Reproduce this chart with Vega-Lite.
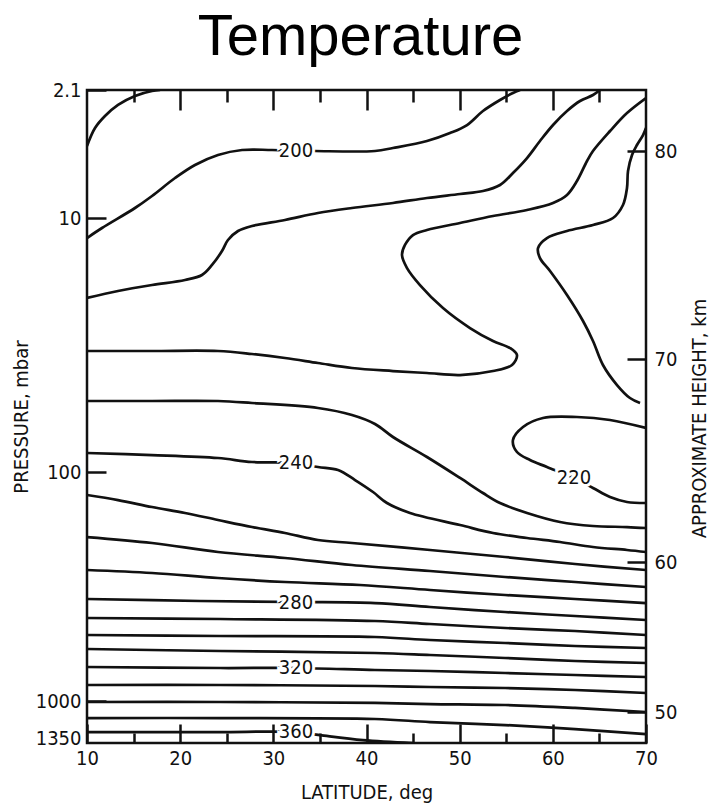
{
  "$schema": "https://vega.github.io/schema/vega-lite/v6.json",
  "width": 559,
  "height": 653,
  "autosize": "none",
  "padding": {"left": 87, "top": 90, "right": 65, "bottom": 65},
  "title": {"text": "Temperature", "font": "Liberation Sans", "fontSize": 58, "fontWeight": "normal", "color": "#000", "anchor": "middle", "frame": "group", "baseline": "alphabetic", "offset": -33, "dx": -6},
  "datasets": {
    "contours": [
      {"c":1,"T":190,"i":0,"lat":10,"p":4.157},{"c":1,"T":190,"i":1,"lat":10.86,"p":3.338},{"c":1,"T":190,"i":2,"lat":11.93,"p":2.884},{"c":1,"T":190,"i":3,"lat":13.33,"p":2.52},{"c":1,"T":190,"i":4,"lat":15.15,"p":2.259},{"c":1,"T":190,"i":5,"lat":16.98,"p":2.126},{"c":1,"T":190,"i":6,"lat":17.84,"p":2.1},
      {"c":2,"T":200,"i":0,"lat":10,"p":11.99},{"c":2,"T":200,"i":1,"lat":11.61,"p":10.95},{"c":2,"T":200,"i":2,"lat":15.15,"p":8.852},{"c":2,"T":200,"i":3,"lat":16.98,"p":7.647},{"c":2,"T":200,"i":4,"lat":19.45,"p":6.142},{"c":2,"T":200,"i":5,"lat":21.59,"p":5.24},{"c":2,"T":200,"i":6,"lat":24.06,"p":4.639},{"c":2,"T":200,"i":7,"lat":26.64,"p":4.364},{"c":2,"T":200,"i":8,"lat":29.86,"p":4.364},{"c":2,"T":200,"i":9,"lat":34.47,"p":4.418},{"c":2,"T":200,"i":10,"lat":40.91,"p":4.418},{"c":2,"T":200,"i":11,"lat":42.84,"p":4.259},{"c":2,"T":200,"i":12,"lat":46.49,"p":3.911},{"c":2,"T":200,"i":13,"lat":48.96,"p":3.548},{"c":2,"T":200,"i":14,"lat":50.79,"p":3.218},{"c":2,"T":200,"i":15,"lat":52.5,"p":2.713},{"c":2,"T":200,"i":16,"lat":54.33,"p":2.372},{"c":2,"T":200,"i":17,"lat":55.72,"p":2.178},{"c":2,"T":200,"i":18,"lat":56.48,"p":2.1},
      {"c":3,"T":210,"i":0,"lat":10,"p":20.65},{"c":3,"T":210,"i":1,"lat":13.33,"p":19.39},{"c":3,"T":210,"i":2,"lat":16.98,"p":18.36},{"c":3,"T":210,"i":3,"lat":20.52,"p":17.54},{"c":3,"T":210,"i":4,"lat":22.34,"p":16.77},{"c":3,"T":210,"i":5,"lat":23.42,"p":15.31},{"c":3,"T":210,"i":6,"lat":24.49,"p":13.49},{"c":3,"T":210,"i":7,"lat":25.13,"p":12.21},{"c":3,"T":210,"i":8,"lat":26.21,"p":11.25},{"c":3,"T":210,"i":9,"lat":27.71,"p":10.75},{"c":3,"T":210,"i":10,"lat":31.25,"p":10.18},{"c":3,"T":210,"i":11,"lat":34.79,"p":9.409},{"c":3,"T":210,"i":12,"lat":38.44,"p":8.852},{"c":3,"T":210,"i":13,"lat":42.84,"p":8.328},{"c":3,"T":210,"i":14,"lat":46.49,"p":7.837},{"c":3,"T":210,"i":15,"lat":50.04,"p":7.463},{"c":3,"T":210,"i":16,"lat":52.5,"p":7.194},{"c":3,"T":210,"i":17,"lat":54.33,"p":6.688},{"c":3,"T":210,"i":18,"lat":55.72,"p":5.777},{"c":3,"T":210,"i":19,"lat":57.23,"p":4.812},{"c":3,"T":210,"i":20,"lat":58.62,"p":3.911},{"c":3,"T":210,"i":21,"lat":60.02,"p":3.218},{"c":3,"T":210,"i":22,"lat":61.52,"p":2.713},{"c":3,"T":210,"i":23,"lat":62.92,"p":2.402},{"c":3,"T":210,"i":24,"lat":64.31,"p":2.233},{"c":3,"T":210,"i":25,"lat":65.06,"p":2.1},
      {"c":4,"T":220,"i":0,"lat":10,"p":33.39},{"c":4,"T":220,"i":1,"lat":16.98,"p":33.39},{"c":4,"T":220,"i":2,"lat":24.06,"p":33.39},{"c":4,"T":220,"i":3,"lat":27.71,"p":34.31},{"c":4,"T":220,"i":4,"lat":31.25,"p":35.58},{"c":4,"T":220,"i":5,"lat":34.79,"p":37.23},{"c":4,"T":220,"i":6,"lat":38.44,"p":38.96},{"c":4,"T":220,"i":7,"lat":42.84,"p":40.04},{"c":4,"T":220,"i":8,"lat":46.49,"p":40.77},{"c":4,"T":220,"i":9,"lat":50.04,"p":41.52},{"c":4,"T":220,"i":10,"lat":53.58,"p":40.04},{"c":4,"T":220,"i":11,"lat":55.62,"p":37.91},{"c":4,"T":220,"i":12,"lat":56.15,"p":34.63},{"c":4,"T":220,"i":13,"lat":55.4,"p":32.5},{"c":4,"T":220,"i":14,"lat":53.58,"p":30.5},{"c":4,"T":220,"i":15,"lat":51.11,"p":27.11},{"c":4,"T":220,"i":16,"lat":48.21,"p":22.62},{"c":4,"T":220,"i":17,"lat":45.74,"p":18.36},{"c":4,"T":220,"i":18,"lat":44.35,"p":15.74},{"c":4,"T":220,"i":19,"lat":43.81,"p":13.99},{"c":4,"T":220,"i":20,"lat":44.13,"p":12.77},{"c":4,"T":220,"i":21,"lat":44.99,"p":11.67},{"c":4,"T":220,"i":22,"lat":46.49,"p":11.15},{"c":4,"T":220,"i":23,"lat":50.04,"p":10.46},{"c":4,"T":220,"i":24,"lat":53.58,"p":9.759},{"c":4,"T":220,"i":25,"lat":57.23,"p":9.072},{"c":4,"T":220,"i":26,"lat":60.02,"p":8.328},{"c":4,"T":220,"i":27,"lat":61.52,"p":7.554},{"c":4,"T":220,"i":28,"lat":62.59,"p":6.37},{"c":4,"T":220,"i":29,"lat":63.67,"p":4.991},{"c":4,"T":220,"i":30,"lat":64.31,"p":4.418},{"c":4,"T":220,"i":31,"lat":66.14,"p":3.462},{"c":4,"T":220,"i":32,"lat":67.96,"p":2.78},{"c":4,"T":220,"i":33,"lat":70,"p":2.315},
      {"c":5,"T":210,"i":0,"lat":70,"p":3.338},{"c":5,"T":210,"i":1,"lat":69.68,"p":3.636},{"c":5,"T":210,"i":2,"lat":69.03,"p":4.106},{"c":5,"T":210,"i":3,"lat":68.5,"p":4.639},{"c":5,"T":210,"i":4,"lat":68.07,"p":5.638},{"c":5,"T":210,"i":5,"lat":67.96,"p":6.936},{"c":5,"T":210,"i":6,"lat":67.53,"p":8.533},{"c":5,"T":210,"i":7,"lat":66.46,"p":10},{"c":5,"T":210,"i":8,"lat":64.31,"p":10.66},{"c":5,"T":210,"i":9,"lat":61.52,"p":11.25},{"c":5,"T":210,"i":10,"lat":59.37,"p":11.99},{"c":5,"T":210,"i":11,"lat":58.41,"p":13.13},{"c":5,"T":210,"i":12,"lat":58.62,"p":14.38},{"c":5,"T":210,"i":13,"lat":59.7,"p":16.17},{"c":5,"T":210,"i":14,"lat":61.52,"p":20.1},{"c":5,"T":210,"i":15,"lat":63.24,"p":25.44},{"c":5,"T":210,"i":16,"lat":64.31,"p":30.5},{"c":5,"T":210,"i":17,"lat":65.38,"p":37.91},{"c":5,"T":210,"i":18,"lat":66.89,"p":45.45},{"c":5,"T":210,"i":19,"lat":68.28,"p":51.13},{"c":5,"T":210,"i":20,"lat":69.36,"p":53.5},
      {"c":6,"T":230,"i":0,"lat":10,"p":52.54},{"c":6,"T":230,"i":1,"lat":16.98,"p":52.54},{"c":6,"T":230,"i":2,"lat":24.06,"p":52.54},{"c":6,"T":230,"i":3,"lat":27.71,"p":53.5},{"c":6,"T":230,"i":4,"lat":34.79,"p":55.98},{"c":6,"T":230,"i":5,"lat":38.44,"p":59.65},{"c":6,"T":230,"i":6,"lat":40.91,"p":64.71},{"c":6,"T":230,"i":7,"lat":42.84,"p":72.81},{"c":6,"T":230,"i":8,"lat":46.49,"p":87.3},{"c":6,"T":230,"i":9,"lat":50.04,"p":106.2},{"c":6,"T":230,"i":10,"lat":52.5,"p":123.5},{"c":6,"T":230,"i":11,"lat":54.33,"p":136.6},{"c":6,"T":230,"i":12,"lat":57.23,"p":151},{"c":6,"T":230,"i":13,"lat":60.77,"p":165.3},{"c":6,"T":230,"i":14,"lat":64.31,"p":172.1},{"c":6,"T":230,"i":15,"lat":67.96,"p":173.9},{"c":6,"T":230,"i":16,"lat":70,"p":175.6},
      {"c":7,"T":220,"i":0,"lat":70,"p":67.11},{"c":7,"T":220,"i":1,"lat":66.14,"p":62.42},{"c":7,"T":220,"i":2,"lat":62.59,"p":60.75},{"c":7,"T":220,"i":3,"lat":58.94,"p":61.3},{"c":7,"T":220,"i":4,"lat":56.8,"p":66.5},{"c":7,"T":220,"i":5,"lat":55.72,"p":74.82},{"c":7,"T":220,"i":6,"lat":56.15,"p":83.43},{"c":7,"T":220,"i":7,"lat":57.55,"p":89.7},{"c":7,"T":220,"i":8,"lat":59.37,"p":95.57},{"c":7,"T":220,"i":9,"lat":62.27,"p":106.2},{"c":7,"T":220,"i":10,"lat":64.31,"p":117.4},{"c":7,"T":220,"i":11,"lat":66.14,"p":128.6},{"c":7,"T":220,"i":12,"lat":67.96,"p":135.2},{"c":7,"T":220,"i":13,"lat":70,"p":136.6},
      {"c":8,"T":240,"i":0,"lat":10,"p":84.19},{"c":8,"T":240,"i":1,"lat":16.98,"p":85.74},{"c":8,"T":240,"i":2,"lat":24.06,"p":88.1},{"c":8,"T":240,"i":3,"lat":27.71,"p":91.34},{"c":8,"T":240,"i":4,"lat":32.43,"p":92.18},{"c":8,"T":240,"i":5,"lat":34.79,"p":95.57},{"c":8,"T":240,"i":6,"lat":36.94,"p":98.2},{"c":8,"T":240,"i":7,"lat":38.77,"p":108.4},{"c":8,"T":240,"i":8,"lat":40.7,"p":122.3},{"c":8,"T":240,"i":9,"lat":42.2,"p":136.6},{"c":8,"T":240,"i":10,"lat":44.67,"p":151},{"c":8,"T":240,"i":11,"lat":50.04,"p":170.4},{"c":8,"T":240,"i":12,"lat":53.58,"p":184.7},{"c":8,"T":240,"i":13,"lat":57.23,"p":194.2},{"c":8,"T":240,"i":14,"lat":60.77,"p":202.2},{"c":8,"T":240,"i":15,"lat":64.31,"p":212.6},{"c":8,"T":240,"i":16,"lat":67.96,"p":219.1},{"c":8,"T":240,"i":17,"lat":70,"p":223.6},
      {"c":9,"T":250,"i":0,"lat":10,"p":126},{"c":9,"T":250,"i":1,"lat":13.33,"p":132.6},{"c":9,"T":250,"i":2,"lat":16.98,"p":142.2},{"c":9,"T":250,"i":3,"lat":20.52,"p":151},{"c":9,"T":250,"i":4,"lat":24.06,"p":162},{"c":9,"T":250,"i":5,"lat":27.71,"p":173.9},{"c":9,"T":250,"i":6,"lat":31.25,"p":184.7},{"c":9,"T":250,"i":7,"lat":34.79,"p":198.2},{"c":9,"T":250,"i":8,"lat":38.44,"p":204.2},{"c":9,"T":250,"i":9,"lat":46.82,"p":219.1},{"c":9,"T":250,"i":10,"lat":54.87,"p":235},{"c":9,"T":250,"i":11,"lat":62.38,"p":252.2},{"c":9,"T":250,"i":12,"lat":70,"p":267.9},
      {"c":10,"T":260,"i":0,"lat":10,"p":192.3},{"c":10,"T":260,"i":1,"lat":16.98,"p":204.2},{"c":10,"T":260,"i":2,"lat":24.06,"p":223.6},{"c":10,"T":260,"i":3,"lat":31.25,"p":237.4},{"c":10,"T":260,"i":4,"lat":38.44,"p":254.7},{"c":10,"T":260,"i":5,"lat":46.82,"p":270.6},{"c":10,"T":260,"i":6,"lat":54.87,"p":287.4},{"c":10,"T":260,"i":7,"lat":62.38,"p":302.2},{"c":10,"T":260,"i":8,"lat":70,"p":317.8},
      {"c":11,"T":270,"i":0,"lat":10,"p":267.9},{"c":11,"T":270,"i":1,"lat":16.98,"p":276.1},{"c":11,"T":270,"i":2,"lat":24.06,"p":290.3},{"c":11,"T":270,"i":3,"lat":31.25,"p":302.2},{"c":11,"T":270,"i":4,"lat":39.3,"p":311.5},{"c":11,"T":270,"i":5,"lat":46.82,"p":327.5},{"c":11,"T":270,"i":6,"lat":54.87,"p":344.4},{"c":11,"T":270,"i":7,"lat":62.38,"p":358.5},{"c":11,"T":270,"i":8,"lat":70,"p":373.4},
      {"c":12,"T":280,"i":0,"lat":10,"p":358.5},{"c":12,"T":280,"i":1,"lat":22.13,"p":365.9},{"c":12,"T":280,"i":2,"lat":32.43,"p":369.6},{"c":12,"T":280,"i":3,"lat":40.91,"p":373.4},{"c":12,"T":280,"i":4,"lat":46.82,"p":388.7},{"c":12,"T":280,"i":5,"lat":54.87,"p":408.7},{"c":12,"T":280,"i":6,"lat":62.38,"p":425.5},{"c":12,"T":280,"i":7,"lat":70,"p":442.9},
      {"c":13,"T":290,"i":0,"lat":10,"p":434.1},{"c":13,"T":290,"i":1,"lat":24.28,"p":438.5},{"c":13,"T":290,"i":2,"lat":40.91,"p":447.4},{"c":13,"T":290,"i":3,"lat":46.82,"p":461.1},{"c":13,"T":290,"i":4,"lat":54.87,"p":480.1},{"c":13,"T":290,"i":5,"lat":62.38,"p":494.7},{"c":13,"T":290,"i":6,"lat":70,"p":515},
      {"c":14,"T":300,"i":0,"lat":10,"p":515},{"c":14,"T":300,"i":1,"lat":24.28,"p":520.2},{"c":14,"T":300,"i":2,"lat":40.91,"p":525.4},{"c":14,"T":300,"i":3,"lat":46.82,"p":541.5},{"c":14,"T":300,"i":4,"lat":54.87,"p":558},{"c":14,"T":300,"i":5,"lat":62.38,"p":575.3},{"c":14,"T":300,"i":6,"lat":70,"p":586.8},
      {"c":15,"T":310,"i":0,"lat":10,"p":592.7},{"c":15,"T":310,"i":1,"lat":24.28,"p":604.9},{"c":15,"T":310,"i":2,"lat":40.91,"p":617.1},{"c":15,"T":310,"i":3,"lat":46.82,"p":629.6},{"c":15,"T":310,"i":4,"lat":54.87,"p":649},{"c":15,"T":310,"i":5,"lat":62.38,"p":668.9},{"c":15,"T":310,"i":6,"lat":70,"p":682.5},
      {"c":16,"T":320,"i":0,"lat":10,"p":710.5},{"c":16,"T":320,"i":1,"lat":24.28,"p":717.7},{"c":16,"T":320,"i":2,"lat":32.43,"p":717.7},{"c":16,"T":320,"i":3,"lat":40.91,"p":732.3},{"c":16,"T":320,"i":4,"lat":46.82,"p":739.6},{"c":16,"T":320,"i":5,"lat":54.87,"p":754.7},{"c":16,"T":320,"i":6,"lat":62.38,"p":770.1},{"c":16,"T":320,"i":7,"lat":70,"p":785.7},
      {"c":17,"T":330,"i":0,"lat":10,"p":851.3},{"c":17,"T":330,"i":1,"lat":24.28,"p":851.3},{"c":17,"T":330,"i":2,"lat":40.91,"p":860},{"c":17,"T":330,"i":3,"lat":46.82,"p":868.7},{"c":17,"T":330,"i":4,"lat":54.87,"p":877.5},{"c":17,"T":330,"i":5,"lat":62.38,"p":895.4},{"c":17,"T":330,"i":6,"lat":70,"p":922.9},
      {"c":18,"T":340,"i":0,"lat":10,"p":1008},{"c":18,"T":340,"i":1,"lat":24.28,"p":1008},{"c":18,"T":340,"i":2,"lat":40.91,"p":1016},{"c":18,"T":340,"i":3,"lat":46.82,"p":1025},{"c":18,"T":340,"i":4,"lat":54.87,"p":1033},{"c":18,"T":340,"i":5,"lat":62.38,"p":1058},{"c":18,"T":340,"i":6,"lat":70,"p":1093},
      {"c":19,"T":350,"i":0,"lat":10,"p":1148},{"c":19,"T":350,"i":1,"lat":24.28,"p":1148},{"c":19,"T":350,"i":2,"lat":40.91,"p":1157},{"c":19,"T":350,"i":3,"lat":46.82,"p":1186},{"c":19,"T":350,"i":4,"lat":54.87,"p":1215},{"c":19,"T":350,"i":5,"lat":62.38,"p":1255},{"c":19,"T":350,"i":6,"lat":70,"p":1307},
      {"c":20,"T":360,"i":0,"lat":10,"p":1286},{"c":20,"T":360,"i":1,"lat":16.76,"p":1286},{"c":20,"T":360,"i":2,"lat":24.28,"p":1286},{"c":20,"T":360,"i":3,"lat":32.43,"p":1286},{"c":20,"T":360,"i":4,"lat":35.01,"p":1318},{"c":20,"T":360,"i":5,"lat":39.62,"p":1372},{"c":20,"T":360,"i":6,"lat":44.99,"p":1405}
    ],
    "labels": [
      {"T":200,"lat":32.43,"p":4.418},
      {"T":240,"lat":32.43,"p":92.18},
      {"T":280,"lat":32.43,"p":373.4},
      {"T":320,"lat":32.43,"p":717.7},
      {"T":360,"lat":32.43,"p":1286},
      {"T":220,"lat":62.27,"p":106.2}
    ],
    "heights": [{"km":50},{"km":60},{"km":70},{"km":80}]
  },
  "layer": [
    {
      "data": {"name": "contours"},
      "transform": [{"filter": "datum.c <= 8"}],
      "mark": {"type": "line", "interpolate": "catmull-rom", "stroke": "#111", "strokeWidth": 2.7, "clip": true},
      "encoding": {
        "x": {"field": "lat", "type": "quantitative", "scale": {"domain": [10, 70], "nice": false, "zero": false},
              "axis": {"orient": "bottom", "values": [10, 20, 30, 40, 50, 60, 70], "format": "d", "tickSize": -19, "labelPadding": 24, "labelFlush": false, "title": "LATITUDE, deg", "titlePadding": 14}},
        "y": {"field": "p", "type": "quantitative", "scale": {"type": "log", "domain": [2.1, 10, 100, 1000, 1405], "range": [0, 128, 382, 611, 653], "nice": false, "zero": false},
              "axis": {"orient": "left", "values": [2.1, 10, 100, 1000, 1350], "format": "~g", "tickSize": -19, "labelPadding": 25, "title": "PRESSURE, mbar", "titlePadding": 4,
                       "tickOpacity": {"condition": {"test": "datum.value == 1350", "value": 0}, "value": 1}}},
        "detail": {"field": "c", "type": "nominal"},
        "order": {"field": "i", "type": "quantitative"}
      }
    },
    {
      "data": {"name": "contours"},
      "transform": [{"filter": "datum.c > 8"}],
      "mark": {"type": "line", "interpolate": "catmull-rom", "stroke": "#111", "strokeWidth": 2.7, "clip": true},
      "encoding": {
        "x": {"field": "lat", "type": "quantitative", "scale": {"domain": [10, 70], "nice": false, "zero": false},
              "axis": {"orient": "bottom", "values": [15, 25, 35, 45, 55, 65], "tickSize": -10, "labels": false, "title": null}},
        "y": {"field": "p", "type": "quantitative", "scale": {"type": "log", "domain": [2.1, 10, 100, 1000, 1405], "range": [0, 128, 382, 611, 653], "nice": false, "zero": false}, "axis": null},
        "detail": {"field": "c", "type": "nominal"},
        "order": {"field": "i", "type": "quantitative"}
      }
    },
    {
      "data": {"name": "labels"},
      "mark": {"type": "text", "font": "DejaVu Sans Condensed, DejaVu Sans, sans-serif", "fontSize": 20, "align": "center", "baseline": "middle", "fill": "white", "stroke": "white", "strokeWidth": 6},
      "encoding": {
        "x": {"field": "lat", "type": "quantitative", "scale": {"domain": [10, 70], "nice": false, "zero": false},
              "axis": {"orient": "top", "values": [20, 30, 40, 50, 60], "tickSize": -20, "labels": false, "title": null}},
        "y": {"field": "p", "type": "quantitative", "scale": {"type": "log", "domain": [2.1, 10, 100, 1000, 1405], "range": [0, 128, 382, 611, 653], "nice": false, "zero": false}, "axis": null},
        "text": {"field": "T", "type": "nominal"}
      }
    },
    {
      "data": {"name": "labels"},
      "mark": {"type": "text", "font": "DejaVu Sans Condensed, DejaVu Sans, sans-serif", "fontSize": 20, "align": "center", "baseline": "middle", "fill": "#111"},
      "encoding": {
        "x": {"field": "lat", "type": "quantitative", "scale": {"domain": [10, 70], "nice": false, "zero": false},
              "axis": {"orient": "top", "values": [15, 25, 35, 45, 55, 65], "tickSize": -12, "labels": false, "title": null}},
        "y": {"field": "p", "type": "quantitative", "scale": {"type": "log", "domain": [2.1, 10, 100, 1000, 1405], "range": [0, 128, 382, 611, 653], "nice": false, "zero": false}, "axis": null},
        "text": {"field": "T", "type": "nominal"}
      }
    },
    {
      "data": {"name": "heights"},
      "mark": {"type": "point", "opacity": 0},
      "encoding": {
        "y": {"field": "km", "type": "quantitative", "scale": {"domain": [50, 60, 70, 80], "range": [622, 472, 269, 61], "nice": false, "zero": false},
              "axis": {"orient": "right", "values": [50, 60, 70, 80], "tickSize": -19, "labelPadding": 27, "title": "APPROXIMATE HEIGHT, km", "titleAngle": 270, "titlePadding": 33, "titleY": 328}}
      }
    }
  ],
  "resolve": {"scale": {"y": "independent"}, "axis": {"x": "independent"}},
  "config": {
    "view": {"stroke": "#111", "strokeWidth": 2.5},
    "axis": {"grid": false, "domain": false, "ticks": true, "tickColor": "#111", "tickWidth": 2.5, "minExtent": 0,
             "labelFont": "DejaVu Sans Condensed, DejaVu Sans, sans-serif", "labelFontSize": 20, "labelColor": "#111",
             "titleFont": "DejaVu Sans Condensed, DejaVu Sans, sans-serif", "titleFontSize": 20, "titleFontWeight": "normal", "titleColor": "#111"}
  }
}
